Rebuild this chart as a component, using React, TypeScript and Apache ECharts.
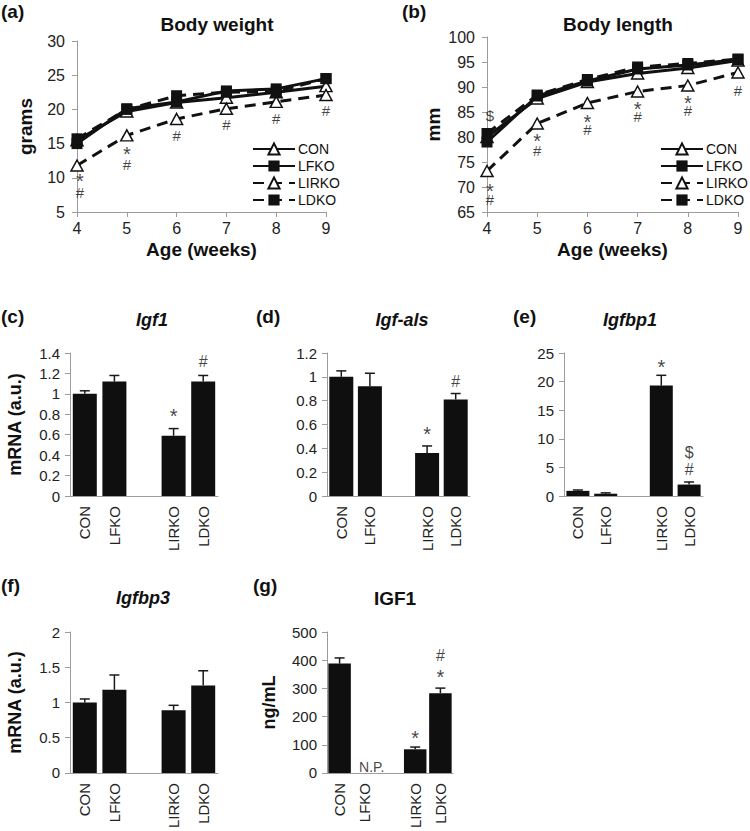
import { useEffect, useRef } from 'react';
import * as echarts from 'echarts';

const FONT = '"Liberation Sans", Arial, Helvetica, sans-serif';
const INK = '#111111';
const AXIS_GREY = '#9c9c9c';

// ---------- Line charts data ----------
const weeks = [4, 5, 6, 7, 8, 9];
const groups = ['CON', 'LFKO', 'LIRKO', 'LDKO'];

const weightCON = [15.5, 19.7, 21.0, 21.7, 22.5, 23.4];
const weightLFKO = [15.0, 20.1, 21.1, 22.7, 23.0, 24.5];
const weightLIRKO = [11.8, 16.2, 18.6, 20.1, 21.1, 22.1];
const weightLDKO = [15.7, 20.0, 22.0, 22.5, 22.6, 24.5];

const lengthCON = [80.0, 87.7, 91.0, 92.7, 93.8, 95.3];
const lengthLFKO = [79.0, 88.2, 91.2, 93.6, 94.4, 95.5];
const lengthLIRKO = [73.2, 82.7, 86.8, 89.1, 90.3, 92.9];
const lengthLDKO = [80.7, 88.4, 91.5, 94.0, 94.7, 95.6];

// significance marks on line charts: [week, y, text]
const weightMarks: [number, number, string][] = [
  [4, 10.1, '*'], [4, 7.9, '#'],
  [5, 14.0, '*'], [5, 12.0, '#'],
  [6, 16.2, '#'], [7, 17.8, '#'], [8, 18.7, '#'], [9, 19.9, '#'],
];
const lengthMarks: [number, number, string][] = [
  [4, 84.4, '$'], [4, 70.0, '*'], [4, 67.6, '#'],
  [5, 80.0, '*'], [5, 77.4, '#'],
  [6, 83.9, '*'], [6, 81.5, '#'],
  [7, 86.4, '*'], [7, 84.1, '#'],
  [8, 87.6, '*'], [8, 85.4, '#'],
  [9, 89.4, '#'],
];

// ---------- Bar charts data ----------
const barCategories = ['CON', 'LFKO', '', 'LIRKO', 'LDKO'];

const igf1Values = [1.0, 1.12, null, 0.59, 1.12];
const igf1Errors = [0.03, 0.06, null, 0.07, 0.06];
const igf1Marks: [string, number, string][] = [['LIRKO', 0.82, '*'], ['LDKO', 1.32, '#']];

const igfalsValues = [1.0, 0.92, null, 0.36, 0.81];
const igfalsErrors = [0.05, 0.11, null, 0.06, 0.05];
const igfalsMarks: [string, number, string][] = [['LIRKO', 0.55, '*'], ['LDKO', 0.96, '#']];

const igfbp1Values = [0.9, 0.4, null, 19.3, 2.0];
const igfbp1Errors = [0.15, 0.15, null, 1.8, 0.45];
const igfbp1Marks: [string, number, string][] = [['LIRKO', 23.2, '*'], ['LDKO', 4.6, '#'], ['LDKO', 7.6, '$']];

const igfbp3Values = [1.0, 1.18, null, 0.89, 1.24];
const igfbp3Errors = [0.05, 0.21, null, 0.07, 0.21];
const igfbp3Marks: [string, number, string][] = [];

const serumIgf1Values = [388, null, null, 84, 283];
const serumIgf1Errors = [20, null, null, 8, 18];
const serumIgf1Marks: [string, number, string][] = [['LIRKO', 140, '*'], ['LDKO', 356, '*'], ['LDKO', 418, '#']];
const serumNotPerformed: [string, number, string][] = [['LFKO', 21, 'N.P.']];

// ---------- styles ----------
const groupStyle: Record<string, { dashed: boolean; symbol: string; hollow: boolean }> = {
  CON: { dashed: false, symbol: 'triangle', hollow: true },
  LFKO: { dashed: false, symbol: 'rect', hollow: false },
  LIRKO: { dashed: true, symbol: 'triangle', hollow: true },
  LDKO: { dashed: true, symbol: 'rect', hollow: false },
};

function markSeries(axisIndex: number, marks: [any, number, string][], fontSize = 15, offset: number[] = [0, 0], firstWeekShift = 0) {
  return {
    type: 'scatter',
    xAxisIndex: axisIndex,
    yAxisIndex: axisIndex,
    silent: true,
    symbol: 'circle',
    symbolSize: 1,
    itemStyle: { color: 'rgba(0,0,0,0)' },
    label: {
      show: true,
      position: 'inside',
      formatter: '{b}',
      fontSize,
      lineHeight: 11,
      fontFamily: FONT,
      color: '#111111',
      offset,
    },
    data: marks.map((m) => {
      const dx = m[0] === 4 ? firstWeekShift : 0;
      const star = m[2] === '*';
      return {
        value: [m[0], m[1]],
        name: m[2],
        label: star
          ? { fontSize: 20, lineHeight: 6, offset: [offset[0] + dx, offset[1] + 4] }
          : { offset: [offset[0] + dx, offset[1]] },
      };
    }),
    z: 10,
  };
}

function errorSeries(axisIndex: number, values: (number | null)[], errors: (number | null)[]) {
  const data: any[] = [];
  values.forEach((v, i) => {
    if (v != null && errors[i] != null) data.push([i, v, errors[i]]);
  });
  return {
    type: 'custom',
    xAxisIndex: axisIndex,
    yAxisIndex: axisIndex,
    silent: true,
    z: 5,
    encode: { x: 0, y: 1 },
    data,
    renderItem: (_params: any, api: any) => {
      const x = api.value(0);
      const v = api.value(1);
      const e = api.value(2);
      const p0 = api.coord([x, v]);
      const p1 = api.coord([x, v + e]);
      const st = { stroke: '#1a1a1a', lineWidth: 1.5 };
      return {
        type: 'group',
        children: [
          { type: 'line', shape: { x1: p0[0], y1: p0[1], x2: p1[0], y2: p1[1] }, style: st },
          { type: 'line', shape: { x1: p1[0] - 5, y1: p1[1], x2: p1[0] + 5, y2: p1[1] }, style: st },
        ],
      };
    },
  };
}

export default function App() {
  const ref = useRef<HTMLDivElement>(null);

  useEffect(() => {
    if (!ref.current) return;
    document.body.style.margin = '0';
    const chart = echarts.init(ref.current, null, { renderer: 'svg' });

    const linePanels = [
      {
        grid: { left: 77, top: 41, width: 249, height: 171 },
        yMin: 5, yMax: 30, yName: 'grams', yGap: 42,
        series: { CON: weightCON, LFKO: weightLFKO, LIRKO: weightLIRKO, LDKO: weightLDKO } as Record<string, number[]>,
        marks: weightMarks,
        legend: { left: 252, top: 142 },
      },
      {
        grid: { left: 487, top: 37, width: 251, height: 175 },
        yMin: 65, yMax: 100, yName: 'mm', yGap: 44,
        series: { CON: lengthCON, LFKO: lengthLFKO, LIRKO: lengthLIRKO, LDKO: lengthLDKO } as Record<string, number[]>,
        marks: lengthMarks,
        legend: { left: 660, top: 142 },
      },
    ];

    const barPanels = [
      { grid: { left: 70, top: 353, width: 148, height: 143 }, max: 1.4, interval: 0.2, yName: 'mRNA (a.u.)', yGap: 46, values: igf1Values, errors: igf1Errors, marks: igf1Marks, barWidth: 24 },
      { grid: { left: 327, top: 353, width: 143, height: 143 }, max: 1.2, interval: 0.2, yName: '', yGap: 45, values: igfalsValues, errors: igfalsErrors, marks: igfalsMarks, barWidth: 24 },
      { grid: { left: 564, top: 353, width: 139, height: 143 }, max: 25, interval: 5, yName: '', yGap: 45, values: igfbp1Values, errors: igfbp1Errors, marks: igfbp1Marks, barWidth: 23 },
      { grid: { left: 70, top: 632, width: 148, height: 142 }, max: 2, interval: 0.5, yName: 'mRNA (a.u.)', yGap: 46, values: igfbp3Values, errors: igfbp3Errors, marks: igfbp3Marks, barWidth: 24 },
      { grid: { left: 327, top: 632, width: 126, height: 142 }, max: 500, interval: 100, yName: 'ng/mL', yGap: 49, values: serumIgf1Values, errors: serumIgf1Errors, marks: serumIgf1Marks, barWidth: 22.5 },
    ];

    const grids: any[] = [];
    const xAxes: any[] = [];
    const yAxes: any[] = [];
    const series: any[] = [];
    const legends: any[] = [];

    const axisLineStyle = { show: true, lineStyle: { color: AXIS_GREY, width: 1 } };
    const boldName = { fontSize: 19, fontWeight: 'bold', color: INK, fontFamily: FONT };

    linePanels.forEach((p, i) => {
      grids.push(p.grid);
      xAxes.push({
        gridIndex: i,
        type: 'value',
        min: 4,
        max: 9,
        interval: 1,
        name: 'Age (weeks)',
        nameLocation: 'middle',
        nameGap: 28,
        nameTextStyle: boldName,
        axisLine: axisLineStyle,
        axisTick: { show: true, length: 5, lineStyle: { color: AXIS_GREY } },
        axisLabel: { fontSize: 16, color: '#222', fontFamily: FONT, margin: 8 },
        splitLine: { show: false },
      });
      yAxes.push({
        gridIndex: i,
        type: 'value',
        min: p.yMin,
        max: p.yMax,
        interval: 5,
        name: p.yName,
        nameLocation: 'middle',
        nameGap: p.yGap,
        nameTextStyle: boldName,
        axisLine: axisLineStyle,
        axisTick: { show: true, length: 5, lineStyle: { color: AXIS_GREY } },
        axisLabel: { fontSize: 16, color: '#222', fontFamily: FONT, margin: 12 },
        splitLine: { show: false },
      });
      groups.forEach((g) => {
        const st = groupStyle[g];
        series.push({
          type: 'line',
          name: g,
          xAxisIndex: i,
          yAxisIndex: i,
          data: weeks.map((w, k) => [w, p.series[g][k]]),
          symbol: st.symbol,
          symbolSize: st.symbol === 'triangle' ? [12, 11] : 11,
          showAllSymbol: true,
          lineStyle: { color: INK, width: 3, type: st.dashed ? [11, 7] : 'solid' },
          itemStyle: { color: st.hollow ? '#ffffff' : INK, borderColor: INK, borderWidth: st.hollow ? 1.5 : 0 },
          emphasis: { disabled: true },
          z: 3,
        });
      });
      series.push(markSeries(i, p.marks, 15, [0, 0], 3));
      legends.push({
        orient: 'vertical',
        left: p.legend.left,
        top: p.legend.top,
        padding: 0,
        itemWidth: 42,
        itemHeight: 14,
        itemGap: 3,
        selectedMode: false,
        textStyle: { fontSize: 14, color: INK, fontFamily: FONT, padding: [0, 0, 0, -2] },
        data: groups,
      });
    });

    barPanels.forEach((p, j) => {
      const i = j + 2;
      grids.push(p.grid);
      xAxes.push({
        gridIndex: i,
        type: 'category',
        data: barCategories,
        axisLine: axisLineStyle,
        axisTick: { show: false },
        axisLabel: { rotate: 90, interval: 0, fontSize: 15, color: '#222', fontFamily: FONT, margin: 10 },
        splitLine: { show: false },
      });
      yAxes.push({
        gridIndex: i,
        type: 'value',
        min: 0,
        max: p.max,
        interval: p.interval,
        name: p.yName,
        nameLocation: 'middle',
        nameGap: p.yGap,
        nameTextStyle: { ...boldName, fontSize: 18 },
        axisLine: axisLineStyle,
        axisTick: { show: true, length: 5, lineStyle: { color: AXIS_GREY } },
        axisLabel: { fontSize: 15, color: '#222', fontFamily: FONT, margin: 10 },
        splitLine: { show: false },
      });
      series.push({
        type: 'bar',
        xAxisIndex: i,
        yAxisIndex: i,
        barWidth: p.barWidth,
        data: p.values.map((v) => (v == null ? '-' : v)),
        itemStyle: { color: '#0f0f0f' },
        emphasis: { disabled: true },
        silent: true,
        z: 2,
      });
      series.push(errorSeries(i, p.values, p.errors));
      series.push(markSeries(i, p.marks, 16));
    });
    series.push(markSeries(6, serumNotPerformed, 14, [7, 0]));

    const labelFont = `bold 19px ${FONT}`;
    const panelLabels: [string, number, number][] = [
      ['(a)', 1, 11], ['(b)', 402, 11], ['(c)', 1, 316], ['(d)', 256, 316],
      ['(e)', 513, 316], ['(f)', 1, 585], ['(g)', 253, 585],
    ];
    const titles: [string, number, number, boolean][] = [
      ['Body weight', 217, 24, false], ['Body length', 618, 24, false],
      ['Igf1', 152, 320, true], ['Igf-als', 402, 320, true], ['Igfbp1', 630, 320, true],
      ['Igfbp3', 143, 598, true], ['IGF1', 395, 598, false],
    ];
    const graphic: any[] = [];
    panelLabels.forEach(([t, x, y]) => {
      graphic.push({
        type: 'text', x, y, silent: true,
        style: { text: t, font: labelFont, fill: INK, align: 'left', verticalAlign: 'middle', textAlign: 'left', textVerticalAlign: 'middle' },
      });
    });
    titles.forEach(([t, x, y, it]) => {
      graphic.push({
        type: 'text', x, y, silent: true,
        style: { text: t, font: `${it ? 'italic ' : ''}bold ${it ? 18 : 19}px ${FONT}`, fill: INK, align: 'center', verticalAlign: 'middle', textAlign: 'center', textVerticalAlign: 'middle' },
      });
    });

    chart.setOption({
      animation: false,
      backgroundColor: '#ffffff',
      textStyle: { fontFamily: FONT },
      grid: grids,
      xAxis: xAxes,
      yAxis: yAxes,
      legend: legends,
      series,
      graphic,
    });

    return () => chart.dispose();
  }, []);

  return <div ref={ref} style={{ position: 'absolute', left: 0, top: 0, width: 750, height: 831 }} />;
}
